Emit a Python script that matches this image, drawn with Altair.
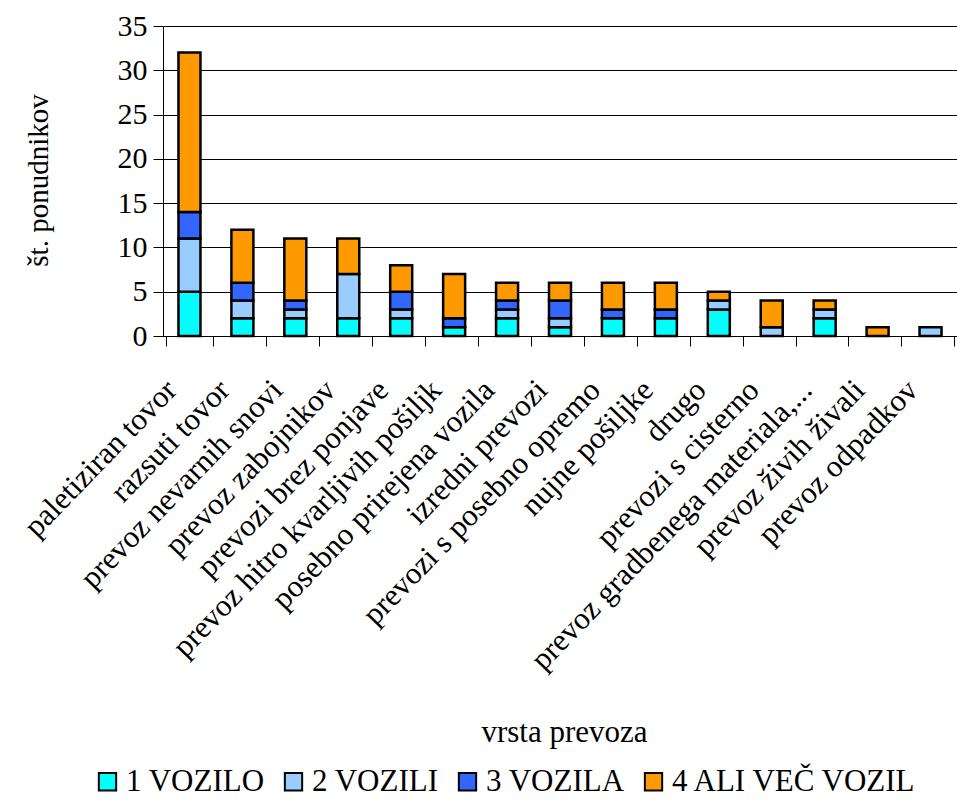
import altair as alt
import pandas as pd

categories = [
    "paletiziran tovor", "razsuti tovor", "prevoz nevarnih snovi", "prevoz zabojnikov",
    "prevozi brez ponjave", "prevoz hitro kvarljivih pošiljk", "posebno prirejena vozila",
    "izredni prevozi", "prevozi s posebno opremo", "nujne pošiljke", "drugo",
    "prevozi s cisterno", "prevoz gradbenega materiala,...", "prevoz živih živali",
    "prevoz odpadkov",
]
series = ["1 VOZILO", "2 VOZILI", "3 VOZILA", "4 ALI VEČ VOZIL"]
v1 = [5, 2, 2, 2, 2, 1, 2, 1, 2, 2, 3, 0, 2, 0, 0]
v2 = [6, 2, 1, 5, 1, 0, 1, 1, 0, 0, 1, 1, 1, 0, 1]
v3 = [3, 2, 1, 0, 2, 1, 1, 2, 1, 1, 0, 0, 0, 0, 0]
v4 = [18, 6, 7, 4, 3, 5, 2, 2, 3, 3, 1, 3, 1, 1, 0]
colors = ["#00FFFF", "#99CCFF", "#3366FF", "#FF9900"]

rows = []
for s_i, (s, vals) in enumerate(zip(series, [v1, v2, v3, v4])):
    for c, v in zip(categories, vals):
        if v > 0:
            rows.append({"cat": c, "series": s, "value": v, "ord": s_i})
df = pd.DataFrame(rows)

FONT = "Times New Roman, Liberation Serif, serif"

chart = alt.Chart(df).mark_bar(size=22, stroke="black", strokeWidth=2.5).encode(
    x=alt.X("cat:N", sort=categories, scale=alt.Scale(domain=categories),
            title="vrsta prevoza",
            axis=alt.Axis(labelAngle=-46, labelAlign="right", labelBaseline="middle",
                          labelPadding=39, labelOffset=-18, tickBand="extent",
                          tickSize=10, tickColor="black", domainColor="black",
                          labelFont=FONT, labelFontSize=31, labelColor="black",
                          labelLimit=0,
                          titleFont=FONT, titleFontSize=31, titleFontWeight="normal",
                          titleColor="black", titleX=401, titleY=396,
                          titleBaseline="middle", titleAlign="center",
                          labelOverlap=False, grid=False)),
    y=alt.Y("value:Q", stack="zero", scale=alt.Scale(domain=[0, 35]),
            title="št. ponudnikov",
            axis=alt.Axis(values=[0, 5, 10, 15, 20, 25, 30, 35], tickSize=10,
                          tickColor="black", domainColor="black", gridColor="black",
                          labelFont=FONT, labelFontSize=30, labelColor="black",
                          labelPadding=6,
                          titleFont=FONT, titleFontSize=29, titleFontWeight="normal",
                          titleColor="black", titleX=-125, titleY=154,
                          titleBaseline="middle", titleAlign="center")),
    color=alt.Color("series:N", scale=alt.Scale(domain=series, range=colors),
                    legend=alt.Legend(title=None, orient="none", legendX=-71, legendY=740,
                                      direction="horizontal", columns=4,
                                      symbolType="square", symbolSize=300,
                                      symbolStrokeColor="black", symbolStrokeWidth=2,
                                      labelFont=FONT, labelFontSize=31, labelColor="black",
                                      labelLimit=0,
                                      labelOffset=3, columnPadding=13, symbolOpacity=1)),
    order=alt.Order("ord:Q"),
).properties(
    width=794, height=310,
    autosize=alt.AutoSizeParams(type="none"),
    padding={"left": 163, "top": 26, "right": 0, "bottom": 464},
).configure_view(stroke=None).configure(background="white", font=FONT)

chart.save("out.html", embed_options={"renderer": "svg", "actions": False})
